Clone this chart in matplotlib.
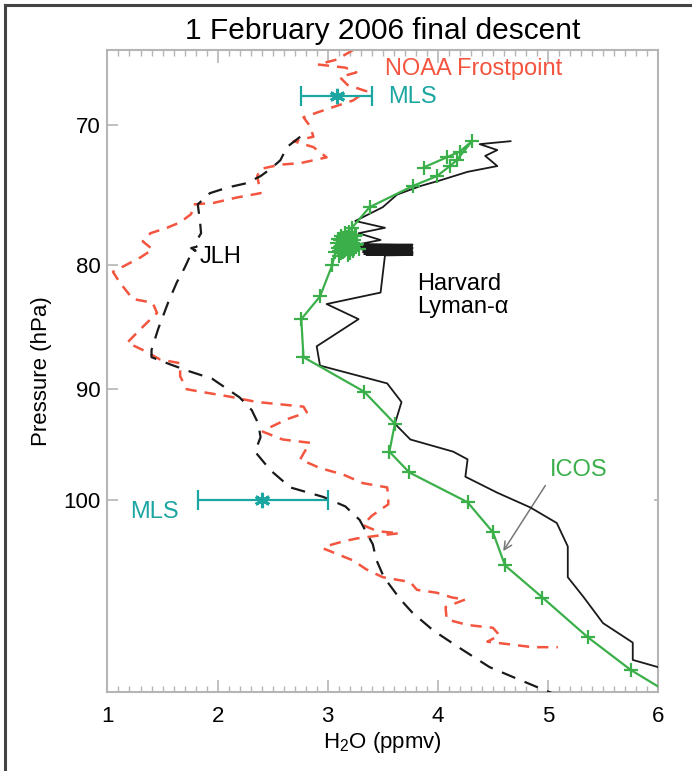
import matplotlib
matplotlib.use("Agg")
import matplotlib.pyplot as plt
from matplotlib.lines import Line2D
from matplotlib.ticker import FixedLocator, MultipleLocator, NullLocator

plt.rcParams['font.family'] = ['Liberation Sans', 'DejaVu Sans']
plt.rcParams['mathtext.fontset'] = 'custom'
plt.rcParams['mathtext.rm'] = 'Liberation Sans'

# ---------------- data (H2O ppmv, pressure hPa) ----------------
jlh_h2o = [2.75, 2.63, 2.57, 2.48, 2.39, 2.26, 2.09, 1.93, 1.82, 1.84, 1.85, 1.79,
           1.81, 1.76, 1.80, 1.77, 1.75, 1.70, 1.63, 1.55, 1.46, 1.40, 1.40, 1.57,
           1.75, 1.95, 2.06, 2.20, 2.31, 2.37, 2.39, 2.34, 2.48, 2.66, 2.96, 3.16,
           3.29, 3.41, 3.44, 3.51, 3.66, 3.77, 3.96, 4.20, 4.47, 4.70, 4.97, 5.11]
jlh_p = [70.8, 71.5, 72.4, 73.0, 73.5, 74.0, 74.3, 74.7, 75.5, 76.7, 77.6, 78.4,
         78.6, 78.7, 78.9, 78.8, 79.3, 80.2, 81.3, 82.9, 85.0, 86.7, 87.3, 87.9,
         88.5, 89.1, 89.8, 90.7, 91.8, 93.0, 94.2, 95.5, 97.2, 98.8, 99.7, 100.6,
         101.9, 104.3, 105.8, 107.6, 109.9, 111.3, 113.2, 115.1, 117.2, 118.4, 119.8, 120.5]

harv_h2o = [4.66, 4.38, 4.54, 4.43, 4.54, 4.27, 4.02, 3.84, 3.63, 3.50, 3.25, 3.52,
            3.28, 3.48, 3.29, 3.77, 3.31, 3.76, 3.30, 3.77, 3.32, 3.77, 3.31, 3.76,
            3.33, 3.77, 3.32, 3.77, 3.34, 3.77, 3.33, 3.76, 3.35, 3.77,
            3.52, 3.48, 2.99, 3.28, 2.90, 2.93, 3.54, 3.67, 3.61, 3.75, 4.14, 4.27,
            4.25, 4.54, 4.84, 5.08, 5.18, 5.18, 5.32, 5.50, 5.77, 5.77, 6.00, 6.38]
harv_p = [71.1, 71.3, 71.7, 72.1, 72.8, 73.2, 73.8, 74.2, 74.8, 75.7, 76.7, 77.2,
          77.6, 78.1, 78.4, 78.45, 78.5, 78.55, 78.6, 78.65, 78.7, 78.75, 78.8, 78.85,
          78.9, 78.95, 79.0, 79.05, 79.1, 79.12, 79.15, 79.18, 79.2, 79.22,
          79.25, 82.1, 83.0, 84.2, 86.4, 88.0, 89.5, 91.1, 93.0, 94.4, 95.5, 96.2,
          97.8, 99.3, 100.7, 102.2, 104.5, 107.6, 109.6, 112.4, 114.5, 116.4, 117.2, 118.1]

icos_h2o = [3.87, 4.08, 4.20, 4.31, 4.17, 4.11, 3.99, 3.77, 3.38, 3.22,
            3.16, 3.11, 3.25, 3.09, 3.20, 3.14, 3.28, 3.08, 3.18, 3.12, 3.26, 3.10,
            3.19, 3.13, 3.24, 3.15, 3.21, 3.09, 3.27, 3.17, 3.12, 3.23, 3.14, 3.20,
            3.11, 3.26, 3.16, 3.10, 3.22, 3.18, 3.13, 3.07,
            3.04, 2.93, 2.76, 2.78, 3.33, 3.61, 3.56, 3.74, 4.27, 4.50, 4.61,
            4.95, 5.36, 5.75, 6.20]
icos_p = [72.9, 72.2, 71.8, 71.1, 72.4, 72.8, 73.5, 74.2, 75.7, 77.2,
          77.6, 78.1, 77.8, 78.7, 78.3, 79.0, 78.8, 78.3, 79.2, 77.8, 78.5, 79.3,
          77.5, 78.5, 78.1, 78.9, 78.7, 78.0, 78.4, 77.9, 79.1, 78.9, 78.2, 79.1,
          78.6, 77.7, 78.6, 78.9, 78.3, 78.0, 78.8, 79.0,
          80.0, 82.4, 84.2, 87.3, 90.2, 93.0, 95.5, 97.4, 100.2, 103.1, 106.4,
          109.7, 113.9, 117.5, 120.9]

noaa_h2o = [3.23, 3.08, 2.91, 3.16, 3.26, 3.11, 3.18, 3.35, 3.23, 3.02, 2.78, 2.84,
            2.87, 2.69, 2.87, 2.99, 2.75, 2.57, 2.39, 2.36, 2.39, 2.18, 1.96, 1.78,
            1.76, 1.66, 1.54, 1.39, 1.32, 1.41, 1.30, 1.14, 1.05, 1.11, 1.23, 1.41,
            1.45, 1.30, 1.18, 1.32, 1.48, 1.66, 1.66, 1.72, 1.90, 2.09, 2.36, 2.57,
            2.78, 2.81, 2.63, 2.48, 2.41, 2.59, 2.84, 2.79, 2.75, 2.93, 3.14, 3.32,
            3.54, 3.55, 3.55, 3.40, 3.32, 3.45, 3.65, 3.48, 3.27, 3.14, 2.98, 2.96,
            3.05, 3.23, 3.35, 3.50, 3.75, 3.81, 3.99, 4.13, 4.25, 4.07, 4.08, 4.27,
            4.50, 4.56, 4.45, 4.66, 4.86, 5.09]
noaa_p = [65.2, 65.8, 66.1, 66.3, 66.6, 66.9, 67.4, 67.8, 68.4, 68.9, 69.5, 70.1,
          70.8, 71.1, 71.5, 72.2, 72.6, 72.7, 73.0, 73.5, 74.7, 75.0, 75.4, 75.5,
          76.2, 76.8, 77.2, 77.6, 78.2, 78.8, 79.4, 80.1, 80.5, 81.3, 82.6, 82.9,
          83.7, 85.0, 86.1, 86.7, 87.5, 87.8, 88.9, 90.0, 90.3, 90.6, 91.1, 91.3,
          91.5, 92.0, 92.6, 93.3, 93.7, 94.4, 94.7, 95.5, 96.2, 97.0, 97.6, 98.4,
          98.8, 99.7, 100.4, 101.5, 102.4, 103.0, 103.2, 103.4, 103.7, 104.0, 104.5, 104.7,
          105.1, 105.9, 106.8, 107.6, 108.1, 108.9, 109.2, 109.7, 109.9, 110.7, 112.0, 112.6,
          112.9, 113.7, 114.4, 114.7, 115.0, 115.0]

mls_h2o = [3.08, 2.40]
mls_lo = [2.76, 1.82]
mls_hi = [3.40, 3.00]
mls_p = [68.1, 100.0]

title = "1 February 2006 final descent"
xlabel = "H$_2$O (ppmv)"
ylabel = "Pressure (hPa)"
yticks = [70, 80, 90, 100]
xticks = [1, 2, 3, 4, 5, 6]

RED = '#f4553f'
TEAL = '#1ba6a2'
GREEN = '#3bb04a'
GRAY = '#b5b5b5'

fig = plt.figure(figsize=(6.92, 7.71), dpi=100)
ax = fig.add_axes([0.1553, 0.1025, 0.951 - 0.1553, 0.9351 - 0.1025])

ax.plot(noaa_h2o, noaa_p, color=RED, lw=1.8, dashes=(4.5, 3.2), zorder=2)
ax.plot(jlh_h2o, jlh_p, color='#1a1a1a', lw=1.6, dashes=(6.5, 4.5), zorder=3)
ax.plot(harv_h2o, harv_p, color='#1a1a1a', lw=1.3, zorder=4)
ax.plot(icos_h2o, icos_p, color=GREEN, lw=1.6, marker='+', ms=10, mew=1.6, zorder=5)

for xc, lo, hi, pc in zip(mls_h2o, mls_lo, mls_hi, mls_p):
    ax.errorbar([xc], [pc], xerr=[[xc - lo], [hi - xc]], fmt='none', ecolor=TEAL,
                elinewidth=1.6, capsize=7.5, capthick=1.6, zorder=6)
    ax.plot([xc], [pc], marker=(6, 2, 0), ms=11, mew=2.2, color=TEAL, zorder=7)

ax.text(3.52, 66.4, "NOAA Frostpoint", color=RED, fontsize=17, va='center', ha='left')
ax.text(3.55, 68.2, "MLS", color=TEAL, fontsize=17, va='center', ha='left')
ax.text(1.205, 101.1, "MLS", color=TEAL, fontsize=17, va='center', ha='left')
ax.text(1.84, 79.4, "JLH", color='black', fontsize=17, va='center', ha='left')
ax.text(3.81, 82.3, "Harvard\nLyman-\u03b1", color='black', fontsize=17, va='center',
        ha='left', linespacing=1.05)
ax.text(5.02, 97.2, "ICOS", color=GREEN, fontsize=17, va='center', ha='left')
ax.annotate("", xy=(4.58, 105.2), xytext=(4.99, 98.4),
            arrowprops=dict(arrowstyle='->', color='#777777', lw=1.1,
                            mutation_scale=14))

ax.set_yscale('log')
ax.set_ylim(120.0, 65.2)
ax.set_xlim(1, 6)
ax.yaxis.set_major_locator(FixedLocator(yticks))
ax.yaxis.set_minor_locator(NullLocator())
ax.set_yticklabels([str(v) for v in yticks])
ax.xaxis.set_major_locator(FixedLocator(xticks))
ax.xaxis.set_minor_locator(MultipleLocator(0.1))
ax.set_xticklabels([str(v) for v in xticks])

ax.tick_params(axis='both', which='both', direction='in', color=GRAY, labelsize=16,
               labelcolor='black')
ax.tick_params(axis='x', which='major', length=9, width=1.2, top=True, pad=10)
ax.tick_params(axis='x', which='minor', length=4.5, width=1.0, top=True)
ax.tick_params(axis='y', which='major', length=8, width=1.2, right=True, pad=5)
for tick, val in zip(ax.yaxis.get_major_ticks(), yticks):
    if val == 100:
        tick.tick1line.set_color('black')
        tick.tick2line.set_color('black')
        tick.tick2line.set_markersize(3)
    else:
        tick.tick2line.set_visible(False)
for s in ax.spines.values():
    s.set_color(GRAY)
    s.set_linewidth(1.5)

ax.set_xlabel(xlabel, fontsize=16, labelpad=2)
ax.set_ylabel(ylabel, fontsize=16, labelpad=8)
ax.set_title(title, fontsize=21.5, pad=8)

fig.add_artist(Line2D([0.007, 0.007], [0.0, 0.993], color='#444444', lw=2.2))
fig.add_artist(Line2D([0.007, 1.0], [0.993, 0.993], color='#444444', lw=2.2))

fig.savefig("out.png", dpi=100)
